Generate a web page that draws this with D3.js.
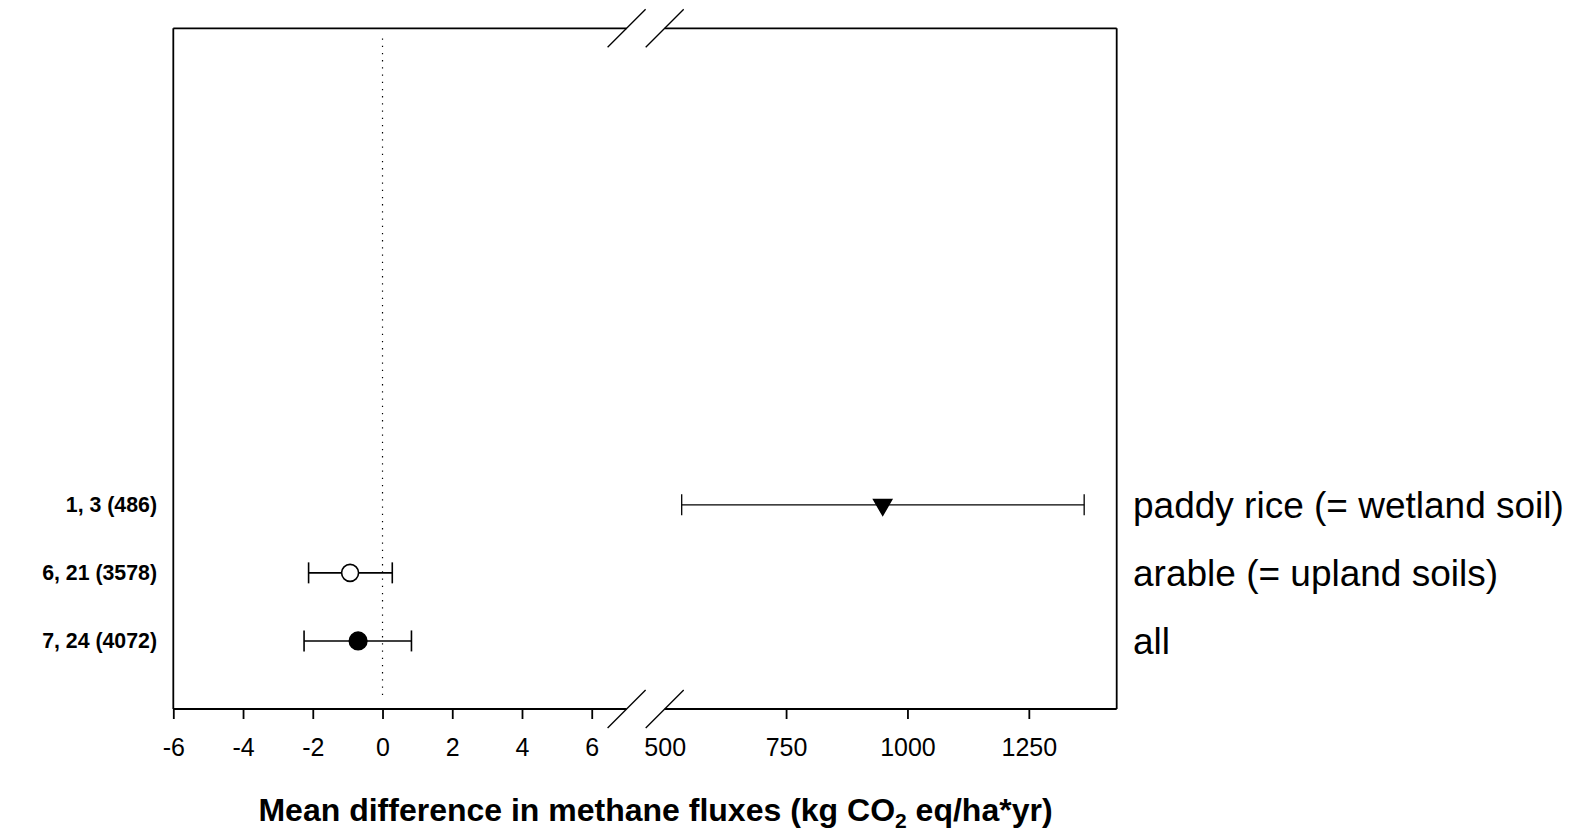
<!DOCTYPE html>
<html>
<head>
<meta charset="utf-8">
<script src="https://cdn.jsdelivr.net/npm/d3@7"></script>
<style>
  body { margin: 0; background: #fff; }
  svg { display: block; font-family: "Liberation Sans", Arial, sans-serif; }
</style>
</head>
<body>
<div id="chart"></div>
<script>
// Forest-style plot: mean difference in methane fluxes, broken x axis

const categories = ["all", "arable (= upland soils)", "paddy rice (= wetland soil)"]
const studyLabels = ["7, 24 (4072)", "6, 21 (3578)", "1, 3 (486)"]
const meanDiff = [-0.70, -0.93, 949]
const ciLow = [-2.25, -2.12, 535]
const ciHigh = [0.83, 0.28, 1364]

const leftTicks = [-6, -4, -2, 0, 2, 4, 6]
const rightTicks = [500, 750, 1000, 1250]

const width = 1575
const height = 832
const box = { left: 173.3, right: 1116.7, top: 28.3, bottom: 709 }
const breakLeft = 626.6
const breakRight = 664.7

const svg = d3.select("#chart")
  .append("svg")
  .attr("width", width)
  .attr("height", height)

// two linear pieces for the broken axis
const xLeft = d3.scaleLinear().domain([-6, 7]).range([box.left, breakLeft])
const xRight = d3.scaleLinear().domain([500, 1431]).range([breakRight, box.right])
const x = v => v > 100 ? xRight(v) : xLeft(v)

const y = d3.scaleLinear().domain([0, 10]).range([box.bottom, box.top])

const rows = categories.map((c, i) => ({
  category: c,
  study: studyLabels[i],
  mean: meanDiff[i],
  lo: ciLow[i],
  hi: ciHigh[i],
  row: i + 1
}))

// marker style per row
const markerStyle = [
  { type: d3.symbolCircle, fill: "#000", rotate: 0, size: Math.PI * 8.8 * 8.8 },
  { type: d3.symbolCircle, fill: "#fff", rotate: 0, size: Math.PI * 8.5 * 8.5 },
  { type: d3.symbolTriangle, fill: "#000", rotate: 180, size: 140 }
]

// frame (left/right full, top/bottom broken)
const frame = svg.append("g")
  .attr("fill", "none")
  .attr("stroke", "#000")
  .attr("stroke-width", 1.8)

frame.append("line")
  .attr("x1", box.left).attr("x2", box.left)
  .attr("y1", box.top).attr("y2", box.bottom)
frame.append("line")
  .attr("x1", box.right).attr("x2", box.right)
  .attr("y1", box.top).attr("y2", box.bottom)

;[box.top, box.bottom].forEach(yy => {
  frame.append("line")
    .attr("x1", box.left).attr("x2", breakLeft)
    .attr("y1", yy).attr("y2", yy)
  frame.append("line")
    .attr("x1", breakRight).attr("x2", box.right)
    .attr("y1", yy).attr("y2", yy)
  ;[breakLeft, breakRight].forEach(bx => {
    frame.append("line")
      .attr("stroke-width", 1.3)
      .attr("x1", bx - 19).attr("y1", yy + 19)
      .attr("x2", bx + 19).attr("y2", yy - 19)
  })
})

// bottom axes
const axisLeft = svg.append("g")
  .attr("transform", `translate(0,${box.bottom})`)
  .call(d3.axisBottom(xLeft).tickValues(leftTicks).tickFormat(d3.format("d"))
    .tickSizeOuter(0).tickSizeInner(10).tickPadding(19))

const axisRight = svg.append("g")
  .attr("transform", `translate(0,${box.bottom})`)
  .call(d3.axisBottom(xRight).tickValues(rightTicks).tickFormat(d3.format("d"))
    .tickSizeOuter(0).tickSizeInner(10).tickPadding(19))

;[axisLeft, axisRight].forEach(g => {
  g.select(".domain").remove()
  g.selectAll(".tick line").attr("stroke", "#000").attr("stroke-width", 1.8)
  g.selectAll(".tick text")
    .attr("fill", "#000")
    .style("font-size", "25px")
    .style("font-family", "'Liberation Sans', Arial, sans-serif")
})
// the 500 tick mark sits under the break
axisRight.selectAll(".tick").filter(d => d === 500).select("line").remove()
axisLeft.selectAll(".tick text").text(d => d < 0 ? "-" + Math.abs(d) : d)

// zero reference line
svg.append("line")
  .attr("x1", x(0)).attr("x2", x(0))
  .attr("y1", y(9.85)).attr("y2", y(0.2))
  .attr("stroke", "#000")
  .attr("stroke-width", 1.2)
  .attr("stroke-dasharray", "1.3,5.9")

// error bars
const bars = svg.append("g")
  .selectAll("g")
  .data(rows)
  .join("g")
  .attr("stroke", "#000")
  .attr("stroke-width", d => d.mean > 100 ? 1.3 : 1.6)

bars.append("line")
  .attr("x1", d => x(d.lo)).attr("x2", d => x(d.hi))
  .attr("y1", d => y(d.row)).attr("y2", d => y(d.row))

bars.selectAll("line.cap")
  .data(d => [d.lo, d.hi].map(v => ({ v, row: d.row })))
  .join("line")
  .attr("class", "cap")
  .attr("x1", d => x(d.v)).attr("x2", d => x(d.v))
  .attr("y1", d => y(d.row) - 10.5).attr("y2", d => y(d.row) + 10.5)

// markers
svg.append("g")
  .selectAll("path")
  .data(rows)
  .join("path")
  .attr("d", (d, i) => d3.symbol().type(markerStyle[i].type).size(markerStyle[i].size)())
  .attr("transform", (d, i) => `translate(${x(d.mean)},${y(d.row)}) rotate(${markerStyle[i].rotate})`)
  .attr("fill", (d, i) => markerStyle[i].fill)
  .attr("stroke", "#000")
  .attr("stroke-width", 1.6)

// study counts on the left
svg.append("g")
  .selectAll("text")
  .data(rows)
  .join("text")
  .attr("x", 157)
  .attr("y", d => y(d.row))
  .attr("dy", "0.35em")
  .attr("text-anchor", "end")
  .style("font-size", "21.3px")
  .style("font-weight", "bold")
  .text(d => d.study)

// category names on the right
svg.append("g")
  .selectAll("text")
  .data(rows)
  .join("text")
  .attr("x", 1133)
  .attr("y", d => y(d.row))
  .attr("dy", "0.35em")
  .style("font-size", "37px")
  .text(d => d.category)

// x axis title
const title = svg.append("text")
  .attr("x", 655.5)
  .attr("y", 821)
  .attr("text-anchor", "middle")
  .style("font-size", "32px")
  .style("font-weight", "bold")

title.append("tspan").text("Mean difference in methane fluxes (kg CO")
title.append("tspan").attr("dy", 7).style("font-size", "21px").text("2")
title.append("tspan").attr("dy", -7).text(" eq/ha*yr)")
</script>
</body>
</html>
